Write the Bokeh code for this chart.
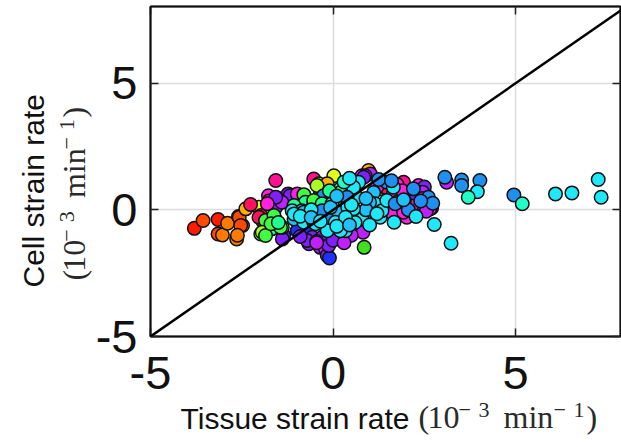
from bokeh.plotting import figure
from bokeh.models import FixedTicker, Slope, Label, LinearAxis, Range1d
from bokeh.layouts import column, row
from bokeh.embed import file_html
from bokeh.resources import INLINE
import math

# ---- data ----
R, RO, O, YO = "#ff1a00", "#ff4a00", "#ff7a00", "#ffb000"
Y, YG, G, GT = "#e0ff1a", "#aaff20", "#40ff40", "#20ff90"
T, C, SC, B = "#20ffc8", "#20e8f8", "#20c0f8", "#2090f0"
DB, P, V, M = "#2030ff", "#8020ff", "#c020ff", "#ff20e0"
PK, CR, G2 = "#ff1090", "#ff1060", "#40e020"

tissue_rate = [
    -3.80, -3.56, -3.15, -3.15, -3.03, -2.89, -2.64, -2.59, -2.48, -2.57, -2.53, -2.62,
    -2.39, -2.03, -2.26, -1.94, -1.98, -2.03,
    -1.57, -1.77, -1.53, -1.76, -1.57, -1.23, -1.18, -0.98, -1.40, -1.57, -1.80,
    -1.35, -0.98, -1.39, -0.71, -0.66, -0.57, -0.30, -0.35, -0.21, -0.16, -0.10, -0.12,
    0.85, 0.82, 0.50, 0.20, -0.71, -0.45, -0.90, -0.45, 0.00, 0.30,
    -1.98, -1.82, -1.62, -1.39, -1.85, -1.59, -1.68, -1.44, -1.94, -1.85, -1.62, -1.70, -1.50,
    0.02, -0.53, -0.39, -0.16, 0.97, 1.02, 0.79, 0.88, -0.35, 0.20, -0.44, -0.80, -0.26,
    0.84, 1.29,
    1.93, 2.29, 2.70, 2.65, 2.34, 1.84, 1.61, 2.02, 1.43, 1.20, 2.50, 1.65, 1.93, 2.45,
    2.15, 1.75, 1.75, 2.15, 2.45, 2.55, 1.90,
    -0.76, -0.48, -0.57, -0.53, -0.26, 0.20, -1.07, -0.53, -0.30, 0.20, 0.65, -0.10,
    -1.12, -0.85, -1.07, -0.80, -0.80, -0.53, -0.48, -0.21, 0.00, -0.16, 0.34, 0.20,
    -0.03, 0.15, 0.06, 0.56, 0.38, 0.65, 0.65, 0.84, 0.79, 1.11, 1.15, 1.29, 1.34,
    1.47, 1.67, 1.70, 1.95, 2.06, 2.20, 2.27, 2.61, 2.73, 2.77, 1.47, 1.65, 0.70, 0.56,
    1.00, 0.40, 0.90, 0.60, -1.07, -0.80, -0.30, -0.07, 0.38, 0.56, 0.34, -0.16, 0.20,
    1.93, 2.40, 0.10, -0.60,
    -0.90, -0.60, -0.35, 0.10, 0.45, 0.50, 0.90, 1.20, 1.00, 0.30, 0.45, 1.25, 1.60,
    3.11, 3.06, 3.52, 3.52, 4.02, 3.95, 3.70, 3.23, 4.95, 5.18, 6.09, 6.54, 7.26, 7.34,
]
cell_rate = [
    -0.73, -0.42, -0.38, -0.95, -0.99, -0.53, -1.15, -0.26, -0.62, -0.29, -0.62, -1.00,
    0.04, 0.10, 0.21, -0.42, -0.22, -0.29,
    1.16, 0.56, 0.47, 0.35, 0.10, 0.63, 0.56, 0.63, 0.30, 0.50, 0.24,
    -1.01, -0.82, -1.15, -0.88, -1.34, -1.08, -1.08, -1.48, -1.54, -1.80, -1.90, -1.41,
    -1.48, -0.88, -1.00, -1.10, -1.21, -1.25, -1.05, -1.30, -1.20, -1.30,
    -0.95, -0.79, -0.36, -0.69, -0.42, -0.36, -0.75, -0.69, -0.88, -1.01, -0.22, -0.55, -0.50,
    1.35, 1.22, 1.03, 1.03, 1.55, 1.42, 1.35, 1.35, 0.63, 0.76, 0.96, 0.60, 0.56,
    1.29, 0.83,
    1.09, 0.24, 0.08, 0.04, 0.96, 0.56, -0.12, -0.29, 0.89, 0.90, 0.90, 0.63, -0.09, 0.70,
    0.60, 1.00, 0.30, 0.15, 0.45, -0.05, 0.75,
    0.30, 0.24, -0.16, 0.24, -0.03, 0.83, 0.17, 0.37, 0.24, 0.69, 1.03, 0.75,
    -0.03, -0.03, -0.36, -0.49, -0.16, -0.49, -0.55, -0.29, -0.42, -0.36, -0.82, 0.24,
    0.24, -0.09, -0.49, 0.43, 0.43, 0.50, 1.09, -0.29, -0.36, 0.69, 0.24, -0.29, -0.03,
    0.37, -0.49, 0.24, 0.37, 0.00, 0.83, -0.26, 0.50, 0.26, -0.58, 1.09, 0.89, 1.09, 0.89,
    0.30, 0.10, 0.00, -0.50, -0.16, -0.09, -0.03, 0.10, 0.50, 0.04, -0.29, -0.82, -0.82,
    0.40, 0.35, 0.55, 0.00,
    -0.25, -0.30, -0.45, -0.65, -0.60, 0.20, 0.45, -0.15, -0.60, 1.10, 1.25, 1.20, 1.15,
    1.09, 1.29, 1.18, 0.96, 1.16, 0.72, 0.50, -1.32, 0.59, 0.24, 0.63, 0.67, 1.20, 0.50,
]
colors = [
    R, RO, R, RO, O, O, O, O, O, RO, RO, O,
    YO, Y, CR, RO, R, CR,
    PK, M, M, PK, P, P, P, M, V, P, M,
    DB, DB, P, DB, P, P, P, V, V, P, DB, P,
    G2, V, V, P, P, V, P, V, P, V,
    G, G, G, G, G, GT, GT, G, YG, G, G, G, GT,
    Y, PK, YG, YO, YO, V, M, P, P, G, YG, G, B,
    P, YG,
    PK, PK, PK, M, M, M, M, M, CR, M, P, M, M, V,
    P, M, M, PK, M, V, M,
    GT, G, GT, GT, T, T, GT, G, GT, GT, T, GT,
    C, C, SC, C, C, SC, C, C, SC, B, C, C,
    C, SC, C, C, SC, C, SC, C, C, SC, C, C, C,
    C, C, B, B, B, B, C, B, B, C, B, C, C, C,
    SC, C, SC, C, C, SC, B, SC, B, C, C, C, C,
    SC, B, SC, C,
    C, SC, C, C, SC, C, SC, C, C, T, C, B, B,
    V, B, B, B, B, C, T, C, B, T, C, C, C, C,
]

x_ticks = [-5, 0, 5]
y_ticks = [-5, 0, 5]
tick_text = {-5: "-5", 0: "0", 5: "5"}
x_title = "Tissue strain rate"
y_title = "Cell strain rate"
# unit "(10^-3 min^-1)" split into pieces; True marks a superscript
unit_pieces = ["(", "10", "\u2212", "3", "min", "\u2212", "1", ")"]
unit_is_sup = [False, False, True, True, False, True, True, False]

FONT = "Liberation Sans"
MATH_FONT = "Liberation Serif"

# ---- layout geometry (pixels) ----
W, H = 621, 447
LEFT_W = 92          # width of the left label strip
TOP_H = 397          # height of the main row
FL, FR, FT, FB = 148, 620, 6, 336
UNIT_ADV = [0, 9, 40, 60, 85, 135, 155, 168]   # piece start offsets along the text
SUP_RAISE = 11
K_MID = 0.345        # baseline sits this many em below a "middle" anchor

# ---- main plot ----
p = figure(width=W - LEFT_W, height=TOP_H,
           x_range=(-5.0, 7.87), y_range=(-5.0, 8.03),
           output_backend="svg", toolbar_location=None,
           min_border_left=FL - LEFT_W, min_border_right=W - FR,
           min_border_top=FT, min_border_bottom=TOP_H - FB,
           x_axis_location=None, y_axis_location=None)
p.outline_line_color = "black"
p.outline_line_width = 1.5


def make_axis(ticks, show_labels):
    ax = LinearAxis(ticker=FixedTicker(ticks=ticks))
    ax.axis_line_color = "#111111"
    ax.axis_line_width = 2
    ax.major_tick_in = 8
    ax.major_tick_out = 0
    ax.major_tick_line_width = 1.5
    ax.major_tick_line_color = "#222222"
    ax.minor_tick_line_color = None
    if show_labels:
        ax.major_label_overrides = dict(tick_text)
        ax.major_label_text_font = FONT
        ax.major_label_text_font_size = "47px"
        ax.major_label_text_color = "#111111"
    else:
        ax.major_label_overrides = {t: "" for t in ticks}
        ax.major_label_text_font_size = "0px"
        ax.major_label_standoff = 0
    return ax


xa = make_axis(x_ticks, True)
xa.major_label_standoff = 20
ya = make_axis(y_ticks, True)
ya.major_label_standoff = 13
p.add_layout(xa, "below")
p.add_layout(ya, "left")
p.add_layout(make_axis(x_ticks, False), "above")
p.add_layout(make_axis(y_ticks, False), "right")

p.xgrid.ticker = FixedTicker(ticks=x_ticks)
p.ygrid.ticker = FixedTicker(ticks=y_ticks)
for g in (p.xgrid, p.ygrid):
    g.grid_line_color = "#dcdcdc"
    g.grid_line_width = 1.5

p.add_layout(Slope(gradient=1, y_intercept=0, line_color="black", line_width=2.5))

p.scatter(tissue_rate, cell_rate, size=13.5, fill_color=colors,
          line_color="#111111", line_width=1.5)


def text_strip(width, height, x0, y0, top=0, bottom=0):
    """Blank figure whose coordinates equal window pixels (y downwards)."""
    f = figure(width=width, height=height, output_backend="svg", toolbar_location=None,
               x_range=Range1d(x0, x0 + width),
               y_range=Range1d(y0 + height - bottom, y0 + top),
               min_border_left=0, min_border_right=0,
               min_border_top=top, min_border_bottom=bottom,
               x_axis_location=None, y_axis_location=None)
    f.outline_line_color = None
    f.grid.visible = False
    return f


def put_text(fig, along, base, txt, font, size, color, vertical):
    """Place text whose alphabetic baseline is at `base` and which starts at `along`."""
    off = K_MID * size
    if vertical:
        x, y, ang = base - off, along, math.pi / 2
    else:
        x, y, ang = along, base - off, 0
    fig.add_layout(Label(x=x, y=y, text=txt, angle=ang, text_font=font,
                         text_font_size=f"{size}px", text_color=color,
                         text_align="left", text_baseline="middle"))


def add_unit(fig, start, baseline, vertical, scale=1.0):
    for txt, sup, adv in zip(unit_pieces, unit_is_sup, UNIT_ADV):
        if sup:
            size = 22
            base = baseline - SUP_RAISE
        else:
            size = 32
            base = baseline
        along = start - adv * scale if vertical else start + adv * scale
        put_text(fig, along, base, txt, MATH_FONT, size, "#2a2a2a", vertical)


# ---- y label strip (frame aligned with main frame) ----
ly = text_strip(LEFT_W, TOP_H, 0, 0, top=FT, bottom=TOP_H - FB)
put_text(ly, 287, 43, y_title, FONT, 30, "#111111", True)
add_unit(ly, 280, 85, True, 0.97)

# ---- x label strip ----
lx = text_strip(W, H - TOP_H, 0, TOP_H)
put_text(lx, 180, 428, x_title, FONT, 30, "#111111", False)
add_unit(lx, 418, 428, False)

layout = column(row(ly, p), lx)
open("out.html", "w").write(file_html(layout, INLINE))
